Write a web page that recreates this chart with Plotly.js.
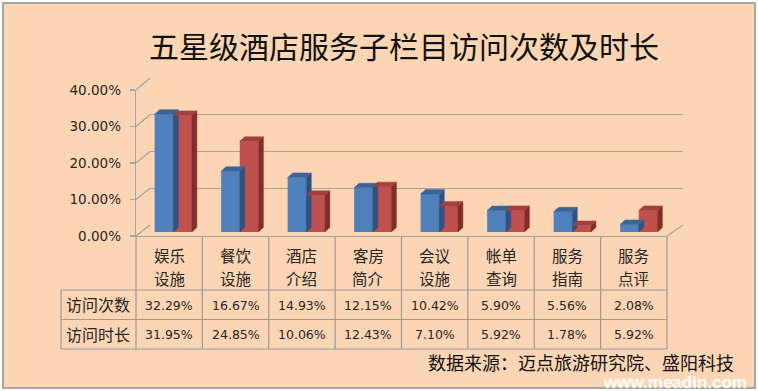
<!DOCTYPE html>
<html><head><meta charset="utf-8">
<script src="https://cdn.plot.ly/plotly-3.0.1.min.js"></script>
<style>html,body{margin:0;padding:0;background:#fff}#chart{width:758px;height:391px}</style>
</head><body><div id="chart"></div>
<script>
// ---- data ----
const categories = [["娱乐","设施"],["餐饮","设施"],["酒店","介绍"],["客房","简介"],["会议","设施"],["帐单","查询"],["服务","指南"],["服务","点评"]];
const seriesNames = ["访问次数","访问时长"];
const visits = [32.29,16.67,14.93,12.15,10.42,5.90,5.56,2.08];
const durations = [31.95,24.85,10.06,12.43,7.10,5.92,1.78,5.92];
const yTicks = [0,10,20,30,40];
const titleText = "五星级酒店服务子栏目访问次数及时长";
const sourceText = "数据来源：迈点旅游研究院、盛阳科技";
const watermarkText = "www.meadin.com";

// ---- geometry / style ----
const W = 758, H = 391;
const px = x => x / W, py = y => 1 - y / H;
const N = categories.length;
const CJK = '"Noto Sans CJK SC", "Noto Sans", sans-serif';
const NUM = '"DejaVu Sans", Verdana, sans-serif';
const GRID = '#a3a3a3';
const TXT = '#262626';
const BAR_W = 0.28, DX = 0.075, DY = 1.23;
const colors = {
  blue: {front:'#4F81BD', top:'#3B6499', side:'#2E5283'},
  red:  {front:'#C0504D', top:'#A33F3C', side:'#832C2A'}
};
const frontL = 136, frontR = 667, frontB = 236, frontT = 90;   // front plane
const backL = 150, backR = 683, backB = 225, backT = 78;       // back wall
const barL = 140, barR = 672, barB = 232, barT = 86;           // bar plane
const tblRows = [290, 319.5, 349], rowLabelL = 61;
const colW = (frontR - frontL) / N;

function faces(vals, off) {
  const side = {x:[], y:[]}, top = {x:[], y:[]};
  vals.forEach((v, i) => {
    const x0 = i + off, x1 = x0 + BAR_W;
    side.x.push(x1, x1 + DX, x1 + DX, x1, x1, null);
    side.y.push(0, DY, v + DY, v, 0, null);
    top.x.push(x0, x0 + DX, x1 + DX, x1, x0, null);
    top.y.push(v, v + DY, v + DY, v, v, null);
  });
  return {side, top};
}
function poly(p, color) {
  return {type:'scatter', mode:'lines', x:p.x, y:p.y, xaxis:'x3', yaxis:'y3',
    fill:'toself', fillcolor:color, line:{color:color, width:0.5},
    hoverinfo:'skip', showlegend:false};
}
const idx = categories.map((_, i) => i);
const fb = faces(visits, -BAR_W), fr = faces(durations, 0);
const traces = [
  {type:'scatter', x:[0], y:[0], xaxis:'x', yaxis:'y', mode:'markers', marker:{opacity:0}, hoverinfo:'skip', showlegend:false},
  {type:'scatter', x:[0], y:[0], xaxis:'x2', yaxis:'y2', mode:'markers', marker:{opacity:0}, hoverinfo:'skip', showlegend:false},
  poly(fb.side, colors.blue.side), poly(fb.top, colors.blue.top),
  {type:'bar', name:seriesNames[0], x:idx, y:visits, width:BAR_W, offset:-BAR_W, xaxis:'x3', yaxis:'y3',
   marker:{color:colors.blue.front, line:{width:0}}, hoverinfo:'skip', showlegend:false},
  poly(fr.side, colors.red.side), poly(fr.top, colors.red.top),
  {type:'bar', name:seriesNames[1], x:idx, y:durations, width:BAR_W, offset:0, xaxis:'x3', yaxis:'y3',
   marker:{color:colors.red.front, line:{width:0}}, hoverinfo:'skip', showlegend:false}
];

const shapes = [];
shapes.push({type:'rect', xref:'paper', yref:'paper', x0:px(3), x1:px(755), y0:py(3), y1:py(388),
  fillcolor:'#FCD5B4', line:{color:'#A6A6A6', width:2}, layer:'below'});
const line = (x0,y0,x1,y1,c,w) => shapes.push({type:'line', xref:'paper', yref:'paper',
  x0:px(x0), y0:py(y0), x1:px(x1), y1:py(y1), line:{color:c||GRID, width:w||1.3}, layer:'below'});
yTicks.forEach(t => {
  const yf = frontB - t * (frontB - frontT) / 40, yb = backB - t * (backB - backT) / 40;
  line(frontL, yf, backL, yb);
});
line(frontR, frontB, backR, backB);
tblRows.forEach(y => line(rowLabelL, y, frontR, y, '#9a9a9a', 1.2));
for (let k = 0; k <= N; k++) line(frontL + k * colW, frontB, frontL + k * colW, tblRows[2], '#9a9a9a', 1.2);
line(rowLabelL, tblRows[0], rowLabelL, tblRows[2], '#9a9a9a', 1.2);

const ann = [];
ann.push({text:titleText, xref:'paper', yref:'paper', x:px(404), y:py(45), showarrow:false,
  font:{family:CJK, size:30, color:'#111'}, xanchor:'center', yanchor:'middle'});
categories.forEach((c, i) => {
  const cx = frontL + (i + 0.5) * colW;
  c.forEach((part, j) => {
    ann.push({text:part, xref:'paper', yref:'paper', x:px(cx), y:py(j ? 277.5 : 254.5), showarrow:false,
      font:{family:CJK, size:15.5, color:TXT}, xanchor:'center', yanchor:'middle'});
  });
  ann.push({text:visits[i].toFixed(2)+'%', xref:'paper', yref:'paper', x:px(cx), y:py(305), showarrow:false,
    font:{family:NUM, size:12.5, color:TXT}, xanchor:'center', yanchor:'middle'});
  ann.push({text:durations[i].toFixed(2)+'%', xref:'paper', yref:'paper', x:px(cx), y:py(334), showarrow:false,
    font:{family:NUM, size:12.5, color:TXT}, xanchor:'center', yanchor:'middle'});
});
seriesNames.forEach((s, r) => {
  ann.push({text:s, xref:'paper', yref:'paper', x:px(64), y:py(r ? 334 : 304), showarrow:false,
    font:{family:CJK, size:16, color:TXT}, xanchor:'left', yanchor:'middle'});
});
ann.push({text:sourceText, xref:'paper', yref:'paper', x:px(426), y:py(362), showarrow:false,
  font:{family:CJK, size:18, color:'#111'}, xanchor:'left', yanchor:'middle'});
ann.push({text:'<b>'+watermarkText+'</b>', xref:'paper', yref:'paper', x:px(601), y:py(382), showarrow:false,
  font:{family:'"Liberation Sans", Arial, sans-serif', size:17, color:'#ffffff'}, xanchor:'left', yanchor:'middle'});

const layout = {
  width:W, height:H, margin:{l:0,r:0,t:0,b:0},
  paper_bgcolor:'#ffffff', plot_bgcolor:'rgba(0,0,0,0)', showlegend:false,
  barmode:'overlay',
  xaxis:{domain:[px(backL), px(backR)], range:[0,1], showgrid:false, zeroline:false, showticklabels:false, ticks:'', showline:false, fixedrange:true},
  yaxis:{domain:[py(backB), py(backT)], range:[0,40], tickvals:yTicks, showgrid:true, gridcolor:GRID, gridwidth:1.3,
         zeroline:false, showticklabels:false, ticks:'', showline:false, anchor:'x', fixedrange:true},
  xaxis2:{domain:[px(frontL), px(frontR)], range:[0,1], showgrid:false, zeroline:false, showticklabels:false, ticks:'',
          showline:true, linecolor:GRID, linewidth:1.3, anchor:'y2', fixedrange:true},
  yaxis2:{domain:[py(frontB), py(frontT)], range:[0,40], tickvals:yTicks, ticktext:yTicks.map(v => v.toFixed(2)+'%'),
          showgrid:false, zeroline:false, showline:true, linecolor:GRID, linewidth:1.3, ticks:'outside', ticklen:5,
          tickcolor:GRID, tickwidth:1.3, tickfont:{family:NUM, size:13.5, color:TXT}, ticklabelstandoff:6, anchor:'x2', fixedrange:true},
  xaxis3:{domain:[px(barL), px(barR)], range:[-0.5, N-0.5], visible:false, fixedrange:true, anchor:'y3'},
  yaxis3:{domain:[py(barB), py(barT)], range:[0,40], visible:false, fixedrange:true, anchor:'x3'},
  shapes:shapes, annotations:ann
};
Plotly.newPlot('chart', traces, layout, {displayModeBar:false, staticPlot:true});
</script>
</body></html>
